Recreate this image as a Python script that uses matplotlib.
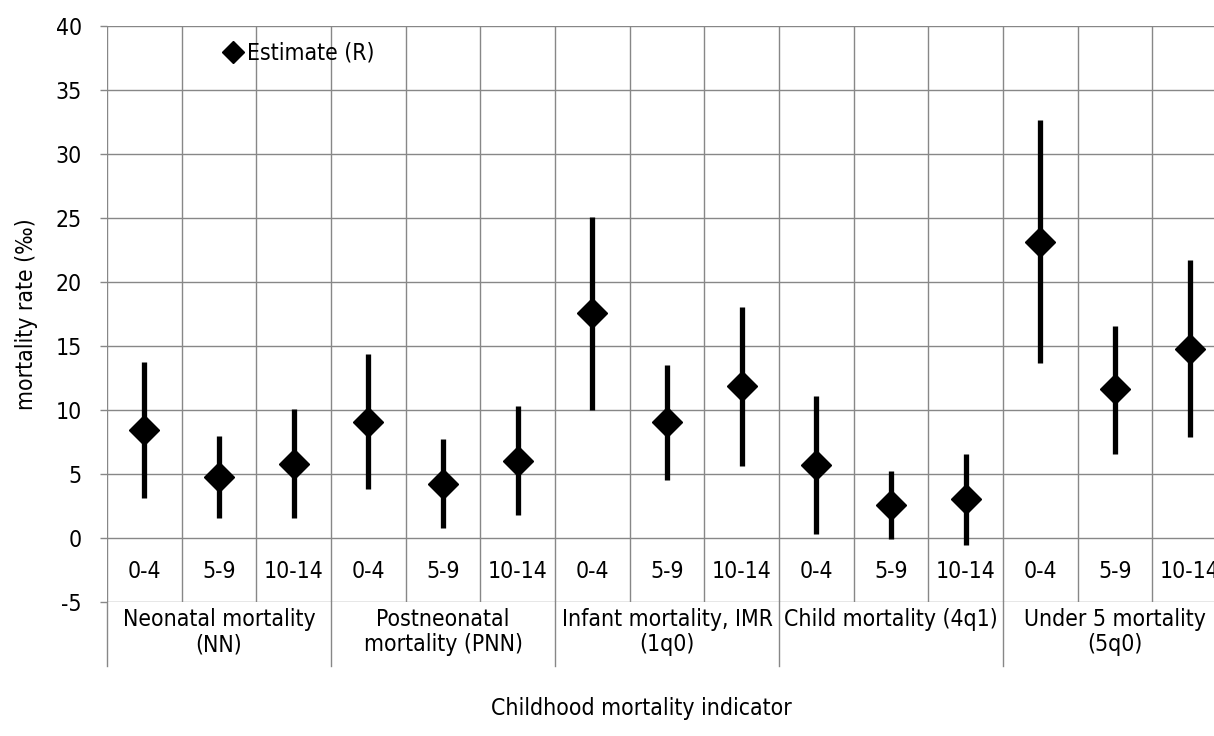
import numpy as np
import matplotlib
matplotlib.use("Agg")
import matplotlib.pyplot as plt

plt.rcParams['font.family'] = ['Liberation Sans Narrow', 'DejaVu Sans']
plt.rcParams['font.stretch'] = 'condensed'
plt.rcParams['axes.unicode_minus'] = False

# Data
groups = ["Neonatal mortality\n(NN)", "Postneonatal\nmortality (PNN)",
          "Infant mortality, IMR\n(1q0)", "Child mortality (4q1)",
          "Under 5 mortality\n(5q0)"]
ages = ["0-4", "5-9", "10-14"]

estimate = [8.45, 4.8, 5.8, 9.1, 4.2, 6.0, 17.55, 9.05, 11.85,
            5.7, 2.6, 3.05, 23.15, 11.65, 14.8]
lower = [3.1, 1.55, 1.55, 3.8, 0.75, 1.8, 10.0, 4.55, 5.6,
         0.3, -0.05, -0.55, 13.7, 6.6, 7.9]
upper = [13.75, 7.95, 10.05, 14.35, 7.75, 10.3, 25.1, 13.55, 18.05,
         11.1, 5.2, 6.6, 32.65, 16.6, 21.7]

grid_color = "#878787"
fs = 16.5

fig = plt.figure(figsize=(12.14, 7.36), dpi=100)
# plot area runs past the right edge, as in the original
ax = fig.add_axes([107 / 1214, 1 - 602 / 736, 1120 / 1214, 576 / 736])

x = np.arange(len(estimate))
ax.vlines(x, lower, upper, color="black", linewidth=3.8, zorder=3)
ax.plot(x, estimate, "D", color="black", markersize=15, zorder=4,
        label="Estimate (R)")

ax.set_xlim(-0.5, len(estimate) - 0.5)
ax.set_ylim(-5, 40)
ax.set_yticks(np.arange(-5, 41, 5))
ax.set_xticks(np.arange(-0.5, len(estimate), 1))
ax.set_xticklabels([])
ax.tick_params(axis="x", length=0)
ax.tick_params(axis="y", length=5, width=1, color=grid_color, pad=13,
               labelsize=fs)
ax.grid(True, color=grid_color, linewidth=1.0)
ax.set_axisbelow(True)
for s in ax.spines.values():
    s.set_visible(False)

# category labels inside the band between 0 and -5
for i in x:
    ax.text(i, -2.6, ages[i % 3], ha="center", va="center", fontsize=fs)

# group labels and separators below the axis
for g, name in enumerate(groups):
    ax.text(3 * g + 1, -5.45, name, ha="center", va="top", fontsize=fs,
            linespacing=1.15, clip_on=False)
for b in np.arange(-0.5, len(estimate), 3):
    ax.plot([b, b], [-5, -10], color=grid_color, linewidth=1.0,
            clip_on=False)

ax.legend(loc="center left", bbox_to_anchor=(0.094, 0.953), frameon=False,
          fontsize=fs, handlelength=0.8, handletextpad=0.2, borderpad=0,
          markerscale=0.75)

fig.text(641 / 1214, 1 - 709 / 736, "Childhood mortality indicator",
         ha="center", va="center", fontsize=fs)
fig.text(27 / 1214, 1 - 314 / 736, "mortality rate (\u2030)",
         ha="center", va="center", rotation=90, fontsize=fs)

fig.savefig("out.png", dpi=100)
